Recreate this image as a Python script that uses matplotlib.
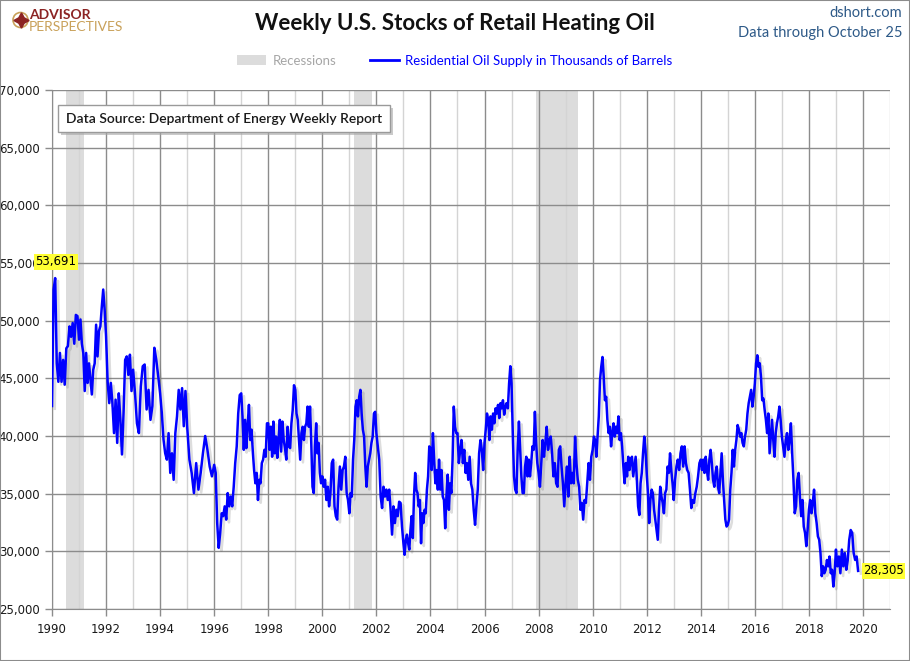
import numpy as np
import matplotlib
matplotlib.use("Agg")
import matplotlib.pyplot as plt
import matplotlib.patheffects as pe
import matplotlib.transforms as mtransforms
from matplotlib.patches import Rectangle, Circle
from matplotlib.lines import Line2D
from matplotlib.ticker import FuncFormatter, MultipleLocator

# Residential heating oil stocks, thousands of barrels (read off the chart,
# roughly 2-3 readings per month, spread evenly across each year)
oil_1990 = [42600, 52700, 53691, 46300, 44700, 47200, 44700, 46600, 44450, 47600,
            47800, 49500, 48600, 49800, 48000, 50500, 50400]
oil_1991 = [48350, 50100, 48000, 47200, 43900, 47200, 44600, 46300, 44900, 43600,
            45750, 46300, 49650, 46900, 49100, 49500, 51200, 52700, 50950]
oil_1992 = [48650, 44700, 42850, 44600, 42850, 40250, 43150, 39400, 43700, 41400,
            38400, 42000, 46600, 46900, 45300, 47050, 43900]
oil_1993 = [45750, 43700, 41100, 40250, 44300, 46050, 46200, 42300, 44000, 41400,
            42600, 47650, 46600, 45200]
oil_1994 = [43700, 42000, 39700, 38500, 37950, 40250, 36800, 38500, 36200, 40250,
            41700, 44000, 42300, 44150, 40850, 43900]
oil_1995 = [40850, 37950, 36800, 35050, 37650, 35350, 36800, 38500, 40000, 38800,
            37350, 36500]
oil_1996 = [37500, 36800, 32450, 30300, 31600, 33300, 33050, 33900, 32750, 35050,
            33900, 34750, 33900, 35600, 37650, 39100, 41950, 43550]
oil_1997 = [43700, 41700, 38800, 41400, 38950, 40950, 42700, 39650, 40550, 38650,
            37050, 35900, 36800, 34450, 36200, 35900, 37650, 37950, 38800, 38200, 41100]
oil_1998 = [41100, 38800, 40800, 38200, 41250, 38500, 39950, 38100, 39650, 41400,
            38650, 41250, 39650, 38950, 37950, 40800, 39100, 38950, 41100, 42250, 44400]
oil_1999 = [44000, 41950, 41400, 39650, 37950, 40250, 40800, 39650, 40800, 41100,
            42550, 40800, 42550, 39400, 35600, 35050, 39100, 41100, 38500, 39400,
            36800, 35900]
oil_2000 = [36500, 35600, 36200, 34450, 35600, 33900, 35050, 37650, 37950, 33900,
            33050, 32750, 35600, 37350, 35350, 37050, 37350, 38200, 35050, 34450]
oil_2001 = [33300, 35050, 34750, 37950, 39650, 42550, 43100, 41700, 43400, 44000,
            41950, 40550, 39950, 37350, 35600, 37350, 37950, 38500, 39400, 39950,
            41950, 42100]
oil_2002 = [40250, 39100, 37950, 34750, 33750, 35600, 34750, 35350, 34450, 35350,
            33600, 31450, 33900, 32450, 33600, 33050, 34300, 34200, 32150]
oil_2003 = [30700, 29700, 31000, 31450, 30700, 30150, 31850, 33050, 31150, 34750,
            36800, 35350, 35050, 33900, 34450, 30700, 33300, 32450, 33600, 33300,
            35350, 36500, 39100]
oil_2004 = [38950, 37050, 40250, 37950, 35900, 37050, 35350, 37950, 35350, 37050,
            34750, 34450, 32000, 34750, 36650, 33600, 35900, 35050, 37950, 42550,
            40800, 40250]
oil_2005 = [40250, 37650, 38800, 39650, 37650, 38800, 36800, 37650, 36200, 38200,
            35900, 35350, 33600, 32300, 33900, 35350, 38500, 39650, 38800, 37050]
oil_2006 = [39400, 40550, 41950, 41400, 39650, 41700, 40550, 41950, 41100, 42400,
            41950, 42700, 41550, 42850, 42400, 43100, 41850, 42550, 42850, 42400,
            44550, 46050]
oil_2007 = [44550, 40250, 36500, 35350, 35050, 38800, 41250, 38800, 36500, 35050,
            35050, 37350, 38200, 36500, 37950, 36500, 37650, 39100, 38800, 42100,
            39400, 37650]
oil_2008 = [36800, 35600, 37650, 39650, 38200, 39400, 40800, 38800, 39650, 39950,
            38500, 36500, 37650, 35900, 35600, 38800, 39100, 37350, 35900, 33900]
oil_2009 = [35900, 37350, 34750, 38200, 35900, 36800, 35900, 39950, 37650, 36200,
            35600, 33600, 34200, 32750, 34450, 34200, 35900, 37650, 36200, 38200]
oil_2010 = [38800, 39950, 39650, 38200, 39950, 41700, 44850, 46000, 46850, 45150,
            43100, 43400, 41400, 40250, 40800, 39100, 40250, 41100, 39950, 40800,
            40250, 41700]
oil_2011 = [39650, 40250, 39100, 37350, 35900, 37650, 36500, 38200, 37050, 37950,
            38200, 36500, 37350, 38200, 36200, 33900, 33150, 35900, 36800, 38500,
            39950, 38800]
oil_2012 = [36800, 35050, 32450, 34450, 35350, 35050, 33600, 32750, 31850, 31000,
            33600, 35600, 34750, 34200, 33300, 35050, 35350, 37350, 36800, 38500,
            37050, 35900]
oil_2013 = [34450, 36200, 37350, 37950, 37050, 38500, 39100, 37350, 39100, 37650,
            37050, 36800, 35350, 33750, 34450, 34200, 35050, 35600, 36500, 37650]
oil_2014 = [37950, 37050, 37950, 36800, 38200, 37050, 36200, 37950, 38800, 37650,
            36200, 35600, 36800, 37350, 35600, 35050, 36800, 38500, 36200, 34450,
            32750, 32150]
oil_2015 = [32300, 32750, 35350, 36800, 38800, 37350, 38800, 39650, 40950, 40550,
            39950, 40250, 39400, 39100, 39950, 40550, 41950, 42850, 43400, 44000,
            42550, 43400]
oil_2016 = [44550, 46300, 47000, 46000, 46300, 45150, 43100, 43250, 42250, 41400,
            40250, 41950, 38500, 39950, 41400, 39650, 38200, 40250, 41100, 41700,
            42550, 41400]
oil_2017 = [39950, 39100, 38200, 39650, 40250, 38800, 39650, 41100, 38500, 36200,
            33300, 33900, 36200, 36800, 34750, 33050, 34450, 32150, 31600, 30450, 31850]
oil_2018 = [33600, 34450, 33300, 34200, 35350, 33300, 32450, 31300, 31000, 29850,
            27850, 28700, 28100, 28400, 29250, 28700, 29550, 28100, 28400, 26950, 28100]
oil_2019 = [30150, 28700, 29550, 28100, 30150, 28700, 29850, 28400, 29250, 31000,
            31850, 31600, 29850, 29250, 29550, 28305]

last_date = 2019.82  # October 25, 2019

# NBER recessions (decimal years)
rec_start = [1990.5, 2001.17, 2007.92]
rec_end = [1991.17, 2001.84, 2009.46]

year_series = [oil_1990, oil_1991, oil_1992, oil_1993, oil_1994, oil_1995, oil_1996,
               oil_1997, oil_1998, oil_1999, oil_2000, oil_2001, oil_2002, oil_2003,
               oil_2004, oil_2005, oil_2006, oil_2007, oil_2008, oil_2009, oil_2010,
               oil_2011, oil_2012, oil_2013, oil_2014, oil_2015, oil_2016, oil_2017,
               oil_2018, oil_2019]

xs, ys = [], []
for i, vals in enumerate(year_series):
    yr = 1990 + i
    if yr == 2019:
        t = np.linspace(yr, last_date, len(vals))
    else:
        t = np.linspace(yr, yr + 1, len(vals), endpoint=False)
    xs.extend(t)
    ys.extend(vals)
xs = np.array(xs)
ys = np.array(ys)

fig = plt.figure(figsize=(9.1, 6.61), dpi=100)
ax = fig.add_axes([52 / 910, 1 - 609 / 661, 838 / 910, 519 / 661])

blue = "#0000ff"
dark_grid = "#8c8c8c"
light_grid = "#d4d4d4"

for s, e in zip(rec_start, rec_end):
    ax.axvspan(s, e, color="#dcdcdc", lw=0, zorder=0.2)

ax.plot(xs, ys, color=blue, lw=1.8, zorder=3, solid_joinstyle="round",
        path_effects=[pe.SimpleLineShadow(offset=(2, -2), shadow_color="#666666", alpha=0.22),
                      pe.Normal()])

ax.set_xlim(1990, 2021)
ax.set_ylim(25000, 70000)
ax.xaxis.set_major_locator(MultipleLocator(2))
ax.xaxis.set_minor_locator(MultipleLocator(1))
ax.yaxis.set_major_locator(MultipleLocator(5000))
ax.yaxis.set_major_formatter(FuncFormatter(lambda v, p: f"{int(v):,}"))
ax.xaxis.set_major_formatter(FuncFormatter(lambda v, p: f"{int(v)}"))

ax.set_axisbelow(True)
ax.grid(which="major", axis="both", color=dark_grid, lw=1.0, zorder=0.5)
ax.grid(which="minor", axis="x", color=light_grid, lw=1.0, zorder=0.4)
ax.tick_params(axis="both", which="major", direction="out", length=5, width=1,
               color=dark_grid, labelsize=8.5, labelcolor="#1a1a1a")
ax.tick_params(axis="x", which="major", pad=5)
ax.tick_params(axis="y", which="major", pad=4)
ax.tick_params(axis="x", which="minor", length=0)
for side in ["top", "right"]:
    ax.spines[side].set_visible(False)
for side in ["left", "bottom"]:
    ax.spines[side].set_color(dark_grid)

# value callouts
ax.text(1990.15, 55100, f"{max(ys):,}", ha="center", va="center", fontsize=8.5,
        zorder=6, clip_on=False,
        bbox=dict(boxstyle="square,pad=0.1", fc="#ffff33", ec="none"))
ax.text(last_date + 0.2, ys[-1], f"{ys[-1]:,}", ha="left", va="center", fontsize=8.5,
        zorder=6, clip_on=False,
        bbox=dict(boxstyle="square,pad=0.1", fc="#ffff33", ec="none"))

# data source box (shadow added after layout is known)
src = ax.text(0.0165, 0.945, "Data Source: Department of Energy Weekly Report",
              transform=ax.transAxes, ha="left", va="center", fontsize=10,
              family="Lato", weight="semibold", color="#1a1a1a", zorder=7,
              bbox=dict(boxstyle="square,pad=0.55", fc="white", ec="#9a9a9a", lw=1))

# titles
fig.text(455 / 910, 1 - 24 / 661, "Weekly U.S. Stocks of Retail Heating Oil", ha="center",
         va="center", fontsize=16, weight="bold", family="Lato", color="#111111")
fig.text(902 / 910, 1 - 13 / 661, "dshort.com", ha="right", va="center", fontsize=10.5,
         family="Lato", color="#2e5a88")
fig.text(902 / 910, 1 - 33 / 661, "Data through October 25", ha="right", va="center",
         fontsize=10.5, family="Lato", color="#2e5a88")

# legend
handles = [Rectangle((0, 0), 1, 1, fc="#dcdcdc", ec="none"),
           Line2D([0], [0], color=blue, lw=2)]
leg = fig.legend(handles, ["Recessions", "Residential Oil Supply in Thousands of Barrels"],
                 loc="center", bbox_to_anchor=(455 / 910, 1 - 61 / 661), ncol=2,
                 frameon=False, handlelength=2.2, handleheight=0.8,
                 columnspacing=2.5, handletextpad=0.5,
                 prop={"family": "Lato", "size": 9.5})
leg.get_texts()[0].set_color("#a6a6a6")
leg.get_texts()[1].set_color(blue)

# logo
fig.patches.append(Circle((0.205, 6.61 - 0.2), 0.075, transform=fig.dpi_scale_trans,
                          fc="none", ec="#c9a15a", lw=1.2))
fig.lines.append(Line2D([0.205], [6.61 - 0.2], transform=fig.dpi_scale_trans,
                        marker=(4, 1, 0), ms=11, color="#8c2323", mec="#8c2323"))
fig.text(29 / 910, 1 - 15 / 661, "ADVISOR", ha="left", va="center", fontsize=10,
         weight="bold", family="Lato", color="#8c2323")
fig.text(29 / 910, 1 - 27 / 661, "PERSPECTIVES", ha="left", va="center", fontsize=10,
         family="Lato", color="#c9a15a")

# outer frame
fig.patches.append(Rectangle((0, 0), 1, 1, transform=fig.transFigure, fill=False,
                             ec="#8c8c8c", lw=1.5))

# drop shadow behind the data source box
fig.canvas.draw()
bb = src.get_bbox_patch().get_window_extent()
shadow = Rectangle((bb.x0 + 3, bb.y0 - 3), bb.width, bb.height,
                   transform=mtransforms.IdentityTransform(),
                   fc="#a8a8a8", ec="none", alpha=0.6, zorder=6.5, clip_on=False)
ax.add_artist(shadow)

fig.savefig("out.png", dpi=100)
